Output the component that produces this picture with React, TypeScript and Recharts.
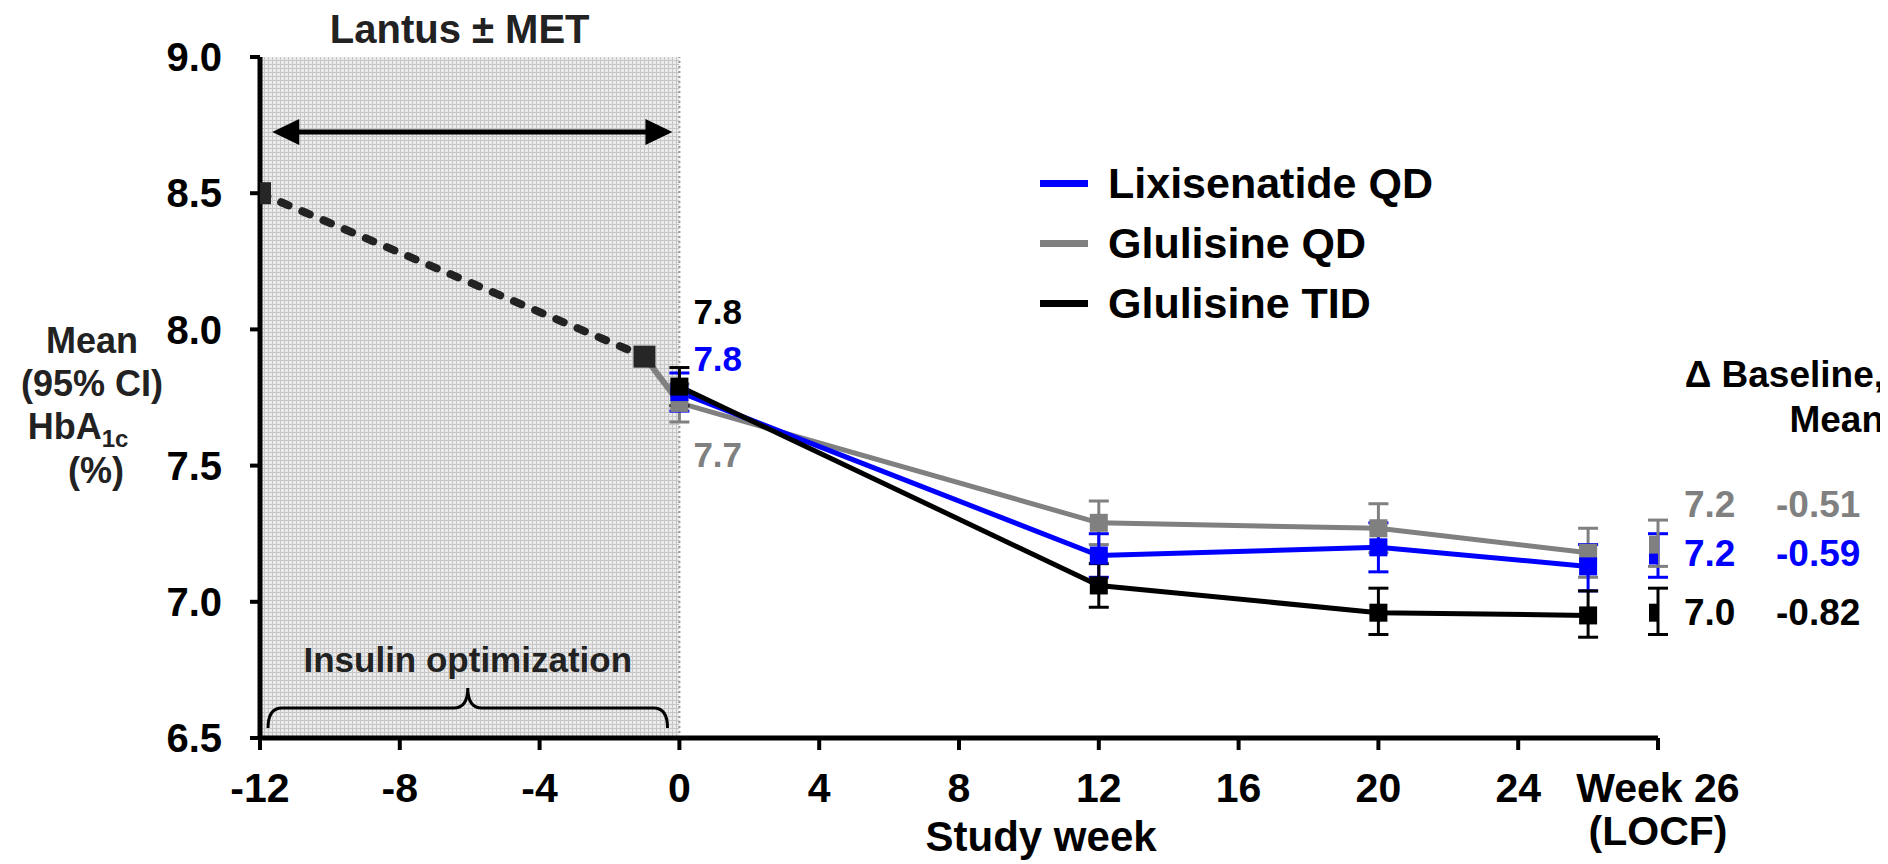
import React from 'react';
import {
  ComposedChart, Line, XAxis, YAxis, ErrorBar, ReferenceArea, ReferenceLine,
  Legend, LabelList,
} from 'recharts';

const FONT = '"Liberation Sans", Arial, sans-serif';

// study weeks with measurements
const weeks = [0, 12, 20, 26];
const xTicks = [-12, -8, -4, 0, 4, 8, 12, 16, 20, 24, 28];
const yTicks = [6.5, 7.0, 7.5, 8.0, 8.5, 9.0];
const locfWeek = 28; // LOCF endpoint sits at the axis end
const locfTickLabel = ['Week 26', '(LOCF)'];

const seriesNames = ['Lixisenatide QD', 'Glulisine QD', 'Glulisine TID'];
const seriesColors = ['#0000ff', '#808080', '#000000'];

const lixiMean = [7.77, 7.17, 7.20, 7.13];
const lixiLow = [7.70, 7.09, 7.11, 7.04];
const lixiHigh = [7.84, 7.25, 7.29, 7.21];

const gluQdMean = [7.73, 7.29, 7.27, 7.18];
const gluQdLow = [7.66, 7.21, 7.18, 7.09];
const gluQdHigh = [7.80, 7.37, 7.36, 7.27];

const gluTidMean = [7.79, 7.06, 6.96, 6.95];
const gluTidLow = [7.72, 6.98, 6.88, 6.87];
const gluTidHigh = [7.86, 7.14, 7.05, 7.04];

// week 26 LOCF endpoint per series (lixi, glu QD, glu TID)
const locfMean = [7.17, 7.21, 6.96];
const locfLow = [7.09, 7.13, 6.88];
const locfHigh = [7.25, 7.30, 7.05];
const locfText = ['7.2', '7.2', '7.0'];
const changeText = ['-0.59', '-0.51', '-0.82'];
const baselineText = ['7.8', '7.7', '7.8'];

// run-in (Lantus ± MET) period
const runInWeeks = [-12, -1];
const runInValues = [8.5, 7.9];

// label nudges (px) so the texts don't collide
const baselineDy = [-33, 52, -75];
const locfDy = [-2, -41, -1];

const build = (mean: number[], low: number[], high: number[]) =>
  weeks.map((w, i) => ({ week: w, v: mean[i], err: [mean[i] - low[i], high[i] - mean[i]] }));

const mainData = [
  build(lixiMean, lixiLow, lixiHigh),
  build(gluQdMean, gluQdLow, gluQdHigh),
  build(gluTidMean, gluTidLow, gluTidHigh),
];
const locfData = locfMean.map((m, i) => [
  { week: locfWeek, v: m, err: [m - locfLow[i], locfHigh[i] - m] },
]);
const runInData = runInWeeks.map((w, i) => ({ week: w, v: runInValues[i] }));
const linkData = [
  { week: runInWeeks[1], v: runInValues[1] },
  { week: weeks[0], v: gluQdMean[0] },
];

const square = (color: string, size = 18) => (p: any) => (
  <rect key={`sq-${color}-${p.index}`} x={p.cx - size / 2} y={p.cy - size / 2}
    width={size} height={size} fill={color} />
);

const txt = { fontFamily: FONT, fontWeight: 700 } as const;

const XTick = (p: any) => {
  const { x, y, payload } = p;
  if (payload.value === locfWeek) {
    return (
      <text x={x} y={y} textAnchor="middle" fontSize={41} fill="#000" {...txt}>
        <tspan x={x} dy={44}>{locfTickLabel[0]}</tspan>
        <tspan x={x} dy={43}>{locfTickLabel[1]}</tspan>
      </text>
    );
  }
  return (
    <text x={x} y={y} dy={44} textAnchor="middle" fontSize={41} fill="#000" {...txt}>
      {payload.value}
    </text>
  );
};

const studyWeekLabel = (p: any) => {
  const vb = p.viewBox;
  return (
    <text x={vb.x + vb.width * 0.5587} y={vb.y + 113} textAnchor="middle" fontSize={42} fill="#000" {...txt}>
      Study week
    </text>
  );
};

const yTitle = (p: any) => {
  const vb = p.viewBox;
  const cx = 84;
  return (
    <g fill="#222" {...txt}>
      <text x={cx} y={vb.y + 296} textAnchor="middle" fontSize={36}>Mean</text>
      <text x={cx} y={vb.y + 339} textAnchor="middle" fontSize={36}>(95% CI)</text>
      <text x={cx - 14} y={vb.y + 382} textAnchor="middle" fontSize={36}>
        HbA<tspan dy={8} fontSize={24}>1c</tspan>
      </text>
      <text x={cx + 4} y={vb.y + 426} textAnchor="middle" fontSize={36}>(%)</text>
    </g>
  );
};

const lantusLabel = (p: any) => {
  const vb = p.viewBox;
  return (
    <text x={vb.x + vb.width / 2 - 10} y={vb.y - 14} textAnchor="middle" fontSize={40} fill="#222" {...txt}>
      Lantus ± MET
    </text>
  );
};

const DoubleArrow = (p: any) => {
  const { x1, y1, x2 } = p;
  const head = 27;
  const half = 13;
  return (
    <g>
      <line x1={x1 + head - 2} y1={y1} x2={x2 - head + 2} y2={y1} stroke="#000" strokeWidth={5} />
      <polygon points={`${x1},${y1} ${x1 + head},${y1 - half} ${x1 + head},${y1 + half}`} fill="#000" />
      <polygon points={`${x2},${y1} ${x2 - head},${y1 - half} ${x2 - head},${y1 + half}`} fill="#000" />
    </g>
  );
};

const Brace = (p: any) => {
  const { x1, y1, x2 } = p;
  const mid = (x1 + x2) / 2;
  const drop = 20;
  const rise = 20;
  const r = 14;
  const d = `M${x1},${y1 + drop} Q${x1},${y1} ${x1 + r},${y1} L${mid - r},${y1} Q${mid},${y1} ${mid},${y1 - rise} `
    + `Q${mid},${y1} ${mid + r},${y1} L${x2 - r},${y1} Q${x2},${y1} ${x2},${y1 + drop}`;
  return (
    <g>
      <path d={d} fill="none" stroke="#000" strokeWidth={3} />
      <text x={mid} y={y1 - 36} textAnchor="middle" fontSize={35} fill="#222" {...txt}>
        Insulin optimization
      </text>
    </g>
  );
};

const baselineLabel = (i: number) => (p: any) => {
  if (p.index !== 0) return null;
  return (
    <text x={p.x + 14} y={p.y + baselineDy[i]} dy={12} fontSize={35} fill={seriesColors[i]} {...txt}>
      {baselineText[i]}
    </text>
  );
};

const locfLabel = (i: number) => (p: any) => (
  <g>
    <text x={p.x + 26} y={p.y + locfDy[i]} dy={13} fontSize={37} fill={seriesColors[i]} {...txt}>
      {locfText[i]}
    </text>
    <text x={p.x + 118} y={p.y + locfDy[i]} dy={13} fontSize={37} fill={seriesColors[i]} {...txt}>
      {changeText[i]}
    </text>
  </g>
);

const renderLegend = () => (
  <div style={{ fontFamily: FONT }}>
    {seriesNames.map((n, i) => (
      <div key={n} style={{ display: 'flex', alignItems: 'center', height: 60 }}>
        <span style={{ display: 'inline-block', width: 48, height: 7, background: seriesColors[i], marginRight: 20 }} />
        <span style={{ fontSize: 43, fontWeight: 700, color: '#000', lineHeight: '60px', whiteSpace: 'nowrap' }}>{n}</span>
      </div>
    ))}
  </div>
);

// draw order: gray, blue, black
const drawOrder = [1, 0, 2];
const locfOrder = [0, 1, 2];

export default function App() {
  return (
    <div style={{ position: 'relative', width: 1880, height: 856, fontFamily: FONT }}>
      <ComposedChart width={1880} height={856} margin={{ top: 49, right: 230, bottom: 0, left: 0 }}>
        <defs>
          <pattern id="runinGrid" width={4} height={4} patternUnits="userSpaceOnUse">
            <rect width={4} height={4} fill="#ebebeb" />
            <path d="M0 0.5H4M0.5 0V4" stroke="#c6c6c6" strokeWidth={1} />
          </pattern>
        </defs>
        <XAxis
          dataKey="week" type="number" domain={[-12, 28]} ticks={xTicks} interval={0}
          allowDataOverflow height={126}
          axisLine={{ stroke: '#000', strokeWidth: 5 }}
          tickLine={{ stroke: '#000', strokeWidth: 4 }}
          tickSize={12} tickMargin={8}
          tick={(p: any) => <XTick {...p} />}
          label={studyWeekLabel}
        />
        <YAxis
          type="number" domain={[6.5, 9]} ticks={yTicks} width={252} interval={0}
          allowDataOverflow
          axisLine={{ stroke: '#000', strokeWidth: 5 }}
          tickLine={{ stroke: '#000', strokeWidth: 4 }}
          tickSize={10} tickMargin={28}
          tickFormatter={(v: number) => v.toFixed(1)}
          tick={{ fill: '#000', fontSize: 40, fontWeight: 700, fontFamily: FONT }}
          label={yTitle}
        />
        <ReferenceArea x1={-12} x2={0} y1={6.5} y2={9} fill="url(#runinGrid)" fillOpacity={1}
          stroke="none" label={lantusLabel} />
        <ReferenceLine x={0} stroke="#999" strokeWidth={2} strokeDasharray="2 3" />
        <ReferenceLine segment={[{ x: -11.65, y: 8.725 }, { x: -0.2, y: 8.725 }]} shape={DoubleArrow} />
        <ReferenceLine segment={[{ x: -11.77, y: 6.61 }, { x: -0.34, y: 6.61 }]} shape={Brace} />

        <Line data={linkData} dataKey="v" stroke={seriesColors[1]} strokeWidth={6} dot={false}
          activeDot={false} isAnimationActive={false} legendType="none" />
        <Line data={runInData} dataKey="v" stroke="#222" strokeWidth={8} strokeDasharray="8 15"
          strokeLinecap="round" dot={square('#262626', 22)} activeDot={false} isAnimationActive={false}
          legendType="none" />

        {drawOrder.map((i) => (
          <Line key={`main-${i}`} data={mainData[i]} dataKey="v" name={seriesNames[i]}
            stroke={seriesColors[i]} strokeWidth={5} dot={square(seriesColors[i])}
            activeDot={false} isAnimationActive={false}>
            <ErrorBar dataKey="err" width={10} strokeWidth={3} stroke={seriesColors[i]} isAnimationActive={false} />
            <LabelList dataKey="v" content={baselineLabel(i)} />
          </Line>
        ))}
        {locfOrder.map((i) => (
          <Line key={`locf-${i}`} data={locfData[i]} dataKey="v" stroke="none"
            dot={square(seriesColors[i])} activeDot={false} isAnimationActive={false} legendType="none">
            <ErrorBar dataKey="err" width={10} strokeWidth={3} stroke={seriesColors[i]} isAnimationActive={false} />
            <LabelList dataKey="v" content={locfLabel(i)} />
          </Line>
        ))}
        <Legend layout="vertical" align="center" verticalAlign="middle" content={renderLegend}
          wrapperStyle={{ left: 1032, top: 145, width: 560 }} />
      </ComposedChart>
      <div style={{
        position: 'absolute', right: 4, top: 344, textAlign: 'right', fontSize: 37,
        fontWeight: 700, lineHeight: '45px', color: '#000',
      }}>
        <div>Δ Baseline,</div>
        <div>Mean</div>
      </div>
    </div>
  );
}
